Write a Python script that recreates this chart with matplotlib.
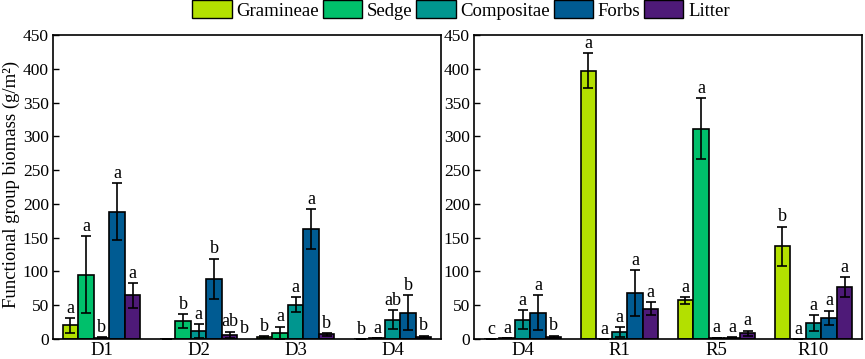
import numpy as np
import matplotlib
matplotlib.use("Agg")
import matplotlib.pyplot as plt
from matplotlib.patches import Patch

plt.rcParams.update({"font.family": "Liberation Serif", "font.size": 13})

groups = ["Gramineae", "Sedge", "Compositae", "Forbs", "Litter"]
colors = ["#b3e000", "#00c06b", "#00968f", "#005b92", "#4e1a78"]

# left panel: degradation stages
left_sites = ["D1", "D2", "D3", "D4"]
left_mean = [[20, 0.5, 3, 0],        # Gramineae
             [95, 26.5, 9, 1],       # Sedge
             [2, 12, 50.5, 28.5],    # Compositae
             [188.5, 89, 162.5, 39], # Forbs
             [64.5, 6, 7, 3.5]]      # Litter
left_err = [[11, 0, 1, 0],
            [57, 10, 9, 0],
            [1, 10, 11, 14],
            [42, 30, 30, 26],
            [18, 5, 2, 1.5]]
left_lab = [["a", "", "b", "b"],
            ["a", "b", "a", "a"],
            ["b", "a", "a", "ab"],
            ["a", "b", "a", "b"],
            ["a", "ab", "b", "b"]]

# right panel: D4 vs restoration years
right_sites = ["D4", "R1", "R5", "R10"]
right_mean = [[0, 397, 57, 137.5],
              [1, 0, 311.5, 0],
              [28.5, 10.5, 1.5, 23.5],
              [39, 68, 2, 31],
              [3.5, 45, 8.5, 77]]
right_err = [[0, 26, 5, 29],
             [0, 0, 45, 0],
             [14, 7, 0.5, 11.5],
             [26, 34, 0.5, 11],
             [1.5, 9.5, 4, 14.5]]
right_lab = [["c", "a", "a", "b"],
             ["a", "a", "a", "a"],
             ["a", "a", "a", "a"],
             ["a", "a", "a", "a"],
             ["b", "a", "a", "a"]]

W = 0.16


def draw(ax, sites, mean, err, lab):
    x = np.arange(len(sites))
    for i in range(len(groups)):
        xi = x + (i - 2) * W
        m = np.array(mean[i]); e = np.array(err[i])
        ax.bar(xi, m, width=W, color=colors[i], edgecolor="black", linewidth=1.2)
        ax.errorbar(xi, m, yerr=e, fmt="none", ecolor="black", elinewidth=1.2,
                    capsize=3.5, capthick=1.2)
        for xx, mm, ee, t in zip(xi, m, e, lab[i]):
            if t:
                ax.text(xx, mm + ee + 2, t, ha="center", va="bottom", fontsize=13)
    ax.set_xticks(x)
    ax.set_xticklabels(sites, fontsize=13.5)
    ax.set_xlim(-0.5, len(sites) - 0.5)
    ax.set_ylim(0, 450)
    ax.set_yticks(range(0, 451, 50))
    ax.tick_params(axis="y", direction="in", length=4, width=1, pad=3,
                   labelsize=12.5)
    ax.tick_params(axis="x", length=0, pad=2)
    for s in ax.spines.values():
        s.set_linewidth(1.2)


fig = plt.figure(figsize=(8.65, 3.59), dpi=100)
ax1 = fig.add_axes([53 / 865, 20 / 359, 388 / 865, 304 / 359])
ax2 = fig.add_axes([474 / 865, 20 / 359, 388 / 865, 304 / 359])
draw(ax1, left_sites, left_mean, left_err, left_lab)
draw(ax2, right_sites, right_mean, right_err, right_lab)
# stray label beside D2 in the original figure
ax1.text(1.47, 3, "b", ha="center", va="bottom", fontsize=13)
fig.text(11 / 865, 0.487, "Functional group biomass (g/m²)", rotation=90,
         ha="center", va="center", fontsize=13.5)

handles = [Patch(facecolor=c, edgecolor="black", label=g) for c, g in zip(colors, groups)]
fig.legend(handles=handles, loc="upper center", bbox_to_anchor=(461 / 865, 1.02),
           ncol=5, frameon=False, fontsize=13.5, handlelength=2.1, handleheight=1.1,
           columnspacing=0.2, handletextpad=0.25, borderaxespad=0)

fig.savefig("out.png", dpi=100)
